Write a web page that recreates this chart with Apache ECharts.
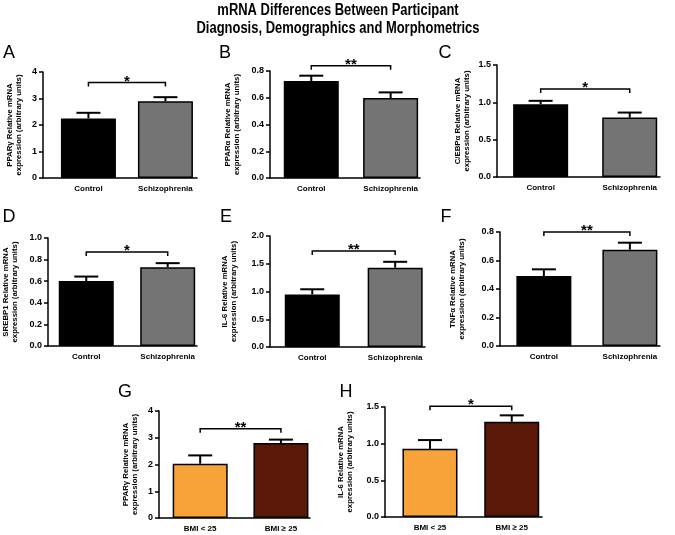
<!DOCTYPE html>
<html><head><meta charset="utf-8">
<script src="https://cdn.jsdelivr.net/npm/echarts@6/dist/echarts.min.js"></script>
<style>html,body{margin:0;padding:0;background:#fff}#c{width:675px;height:535px}</style>
</head><body><div id="c"></div>
<script>
// ---- data ----
const diagnosisCats = ['Control', 'Schizophrenia'];
const bmiCats = ['BMI < 25', 'BMI ≥ 25'];

const pparGammaMeans = [2.25, 2.90];   const pparGammaSem = [0.21, 0.15];
const pparAlphaMeans = [0.725, 0.598]; const pparAlphaSem = [0.040, 0.042];
const cebpAlphaMeans = [0.975, 0.796]; const cebpAlphaSem = [0.045, 0.067];
const srebp1Means = [0.602, 0.730];    const srebp1Sem = [0.041, 0.037];
const il6Means = [0.947, 1.43];        const il6Sem = [0.093, 0.105];
const tnfAlphaMeans = [0.491, 0.676];  const tnfAlphaSem = [0.047, 0.049];
const bmiPparGammaMeans = [2.03, 2.80];const bmiPparGammaSem = [0.31, 0.13];
const bmiIl6Means = [0.929, 1.30];     const bmiIl6Sem = [0.12, 0.086];

const yMaxes = [4, 0.8, 1.5, 1.0, 2.0, 0.8, 4, 1.5];
const yIntervals = [1, 0.2, 0.5, 0.2, 0.5, 0.2, 1, 0.5];
const bracketLevels = [3.6, 0.84, 1.18, 0.87, 1.73, 0.80, 3.34, 1.51];
const significance = ['*', '**', '*', '*', '**', '**', '**', '*'];
const genes = ['PPARγ', 'PPARα', 'C/EBPα', 'SREBP1', 'IL-6', 'TNFα', 'PPARγ', 'IL-6'];
const panelLetters = ['A', 'B', 'C', 'D', 'E', 'F', 'G', 'H'];

const panelData = [
  [diagnosisCats, pparGammaMeans, pparGammaSem],
  [diagnosisCats, pparAlphaMeans, pparAlphaSem],
  [diagnosisCats, cebpAlphaMeans, cebpAlphaSem],
  [diagnosisCats, srebp1Means, srebp1Sem],
  [diagnosisCats, il6Means, il6Sem],
  [diagnosisCats, tnfAlphaMeans, tnfAlphaSem],
  [bmiCats, bmiPparGammaMeans, bmiPparGammaSem],
  [bmiCats, bmiIl6Means, bmiIl6Sem]
];

// ---- layout (pixels) ----
const layout = [
  {left: 43,  top: 72,  width: 154, height: 106, xmin: 0.41, xmax: 2.41, gap: 21, lx: 9,   ly: 53},
  {left: 270, top: 71,  width: 150, height: 107, xmin: 0.48, xmax: 2.37, gap: 30, lx: 225, ly: 53},
  {left: 497, top: 65,  width: 163, height: 112, xmin: 0.51, xmax: 2.34, gap: 27, lx: 445, ly: 53},
  {left: 48,  top: 238, width: 149, height: 108, xmin: 0.53, xmax: 2.36, gap: 30, lx: 9,   ly: 217},
  {left: 270, top: 236, width: 155, height: 111, xmin: 0.49, xmax: 2.36, gap: 33, lx: 226, ly: 217},
  {left: 500, top: 232, width: 160, height: 114, xmin: 0.49, xmax: 2.35, gap: 35, lx: 446, ly: 217},
  {left: 159, top: 411, width: 151, height: 107, xmin: 0.49, xmax: 2.36, gap: 21, lx: 125, ly: 392},
  {left: 385, top: 407, width: 157, height: 110, xmin: 0.45, xmax: 2.37, gap: 32, lx: 346, ly: 392}
];
const FONT = 'Liberation Sans, Arial, sans-serif';
const grayColors = ['#000000', '#747474'];
const bmiColors = ['#F7A33A', '#5A1808'];

const grids = [], xAxes = [], yAxes = [], series = [], graphics = [];

panelData.forEach(function (pd, i) {
  const cats = pd[0], means = pd[1], sem = pd[2], L = layout[i];
  const colors = i >= 6 ? bmiColors : grayColors;
  grids.push({left: L.left, top: L.top, width: L.width, height: L.height, containLabel: false});
  xAxes.push({
    type: 'value', gridIndex: i, min: L.xmin, max: L.xmax,
    axisLine: {show: true, lineStyle: {color: '#000', width: 1.5}},
    axisTick: {show: false}, splitLine: {show: false},
    axisLabel: {
      customValues: [1, 2], margin: 7,
      formatter: function (v) { return cats[Math.round(v) - 1] || ''; },
      color: '#000', fontWeight: 'bold', fontSize: 8, fontFamily: FONT
    }
  });
  const dec = yIntervals[i] < 1 ? 1 : 0;
  yAxes.push({
    type: 'value', gridIndex: i, min: 0, max: yMaxes[i], interval: yIntervals[i],
    name: genes[i] + ' Relative mRNA\nexpression (arbitrary units)',
    nameLocation: 'middle', nameGap: L.gap - 1, nameRotate: 90,
    nameTextStyle: {color: '#000', fontWeight: 'bold', fontSize: 7.8, lineHeight: 9, fontFamily: FONT},
    axisLine: {show: true, lineStyle: {color: '#000', width: 1.5}},
    axisTick: {show: true, inside: false, length: 4, lineStyle: {color: '#000', width: 1.5}},
    splitLine: {show: false},
    axisLabel: {
      margin: 6, color: '#000', fontWeight: 'bold', fontSize: 9, fontFamily: FONT,
      formatter: function (v) { return v.toFixed(dec); }
    }
  });
  series.push({
    type: 'bar', xAxisIndex: i, yAxisIndex: i, barWidth: 55, silent: true,
    data: means.map(function (m, k) {
      return {value: [k + 1, m], itemStyle: {color: colors[k], borderColor: '#000', borderWidth: 1.5}};
    }),
    animation: false
  });
  series.push({
    type: 'custom', xAxisIndex: i, yAxisIndex: i, silent: true, animation: false, z: 5,
    data: means.map(function (m, k) { return [k + 1, m, sem[k]]; }),
    renderItem: function (params, api) {
      const x = api.value(0), m = api.value(1), e = api.value(2);
      const p0 = api.coord([x, m]), p1 = api.coord([x, m + e]);
      const hw = 12;
      return {type: 'group', children: [
        {type: 'line', shape: {x1: p0[0], y1: p0[1], x2: p1[0], y2: p1[1]}, style: {stroke: '#000', lineWidth: 2}},
        {type: 'line', shape: {x1: p1[0] - hw, y1: p1[1], x2: p1[0] + hw, y2: p1[1]}, style: {stroke: '#000', lineWidth: 2}}
      ]};
    }
  });
  const sig = significance[i];
  series.push({
    type: 'custom', xAxisIndex: i, yAxisIndex: i, silent: true, animation: false, z: 6, clip: false,
    data: [[1, 2, bracketLevels[i]]],
    renderItem: function (params, api) {
      const a = api.coord([api.value(0), api.value(2)]);
      const b = api.coord([api.value(1), api.value(2)]);
      return {type: 'group', children: [
        {type: 'polyline', shape: {points: [[a[0], a[1] + 4], [a[0], a[1]], [b[0], b[1]], [b[0], b[1] + 4]]},
          style: {stroke: '#000', lineWidth: 1.5, fill: null}},
        {type: 'text', x: (a[0] + b[0]) / 2, y: a[1] - 1,
          style: {text: sig, font: 'bold 15px ' + FONT, align: 'center', verticalAlign: 'middle', fill: '#000'}}
      ]};
    }
  });
  graphics.push({
    type: 'text', x: L.lx, y: L.ly, silent: true,
    style: {text: panelLetters[i], font: '18px ' + FONT, align: 'center', verticalAlign: 'middle', fill: '#000'}
  });
});

graphics.push({
  type: 'text', x: 338, y: 19.5, scaleX: 0.81, silent: true,
  style: {
    text: 'mRNA Differences Between Participant\nDiagnosis, Demographics and Morphometrics',
    font: 'bold 16px "Liberation Sans", Arial, sans-serif',
    lineHeight: 18.5, align: 'center', verticalAlign: 'middle', fill: '#000'
  }
});

const chart = echarts.init(document.getElementById('c'), null, {renderer: 'canvas'});
chart.setOption({
  backgroundColor: '#ffffff',
  animation: false,
  grid: grids, xAxis: xAxes, yAxis: yAxes, series: series, graphic: graphics
});
</script></body></html>
